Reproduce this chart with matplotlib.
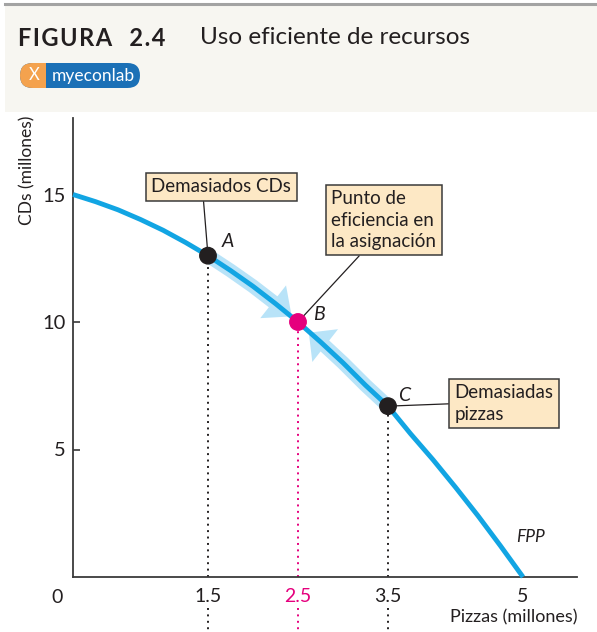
"""
production possibilities frontier with efficient allocation
recreates figure 2.4 (uso eficiente de recursos)
"""

import matplotlib
matplotlib.use("Agg")
import matplotlib.pyplot as plt
from matplotlib.patches import Rectangle, FancyBboxPatch
from matplotlib.transforms import IdentityTransform, blended_transform_factory
from matplotlib.lines import Line2D

# frontier (pizzas vs cds, millions)
fpp_x = [0, 0.25, 0.5, 0.75, 1.0, 1.25, 1.5, 1.75, 2.0, 2.25, 2.5,
         2.75, 3.0, 3.25, 3.5, 3.75, 4.0, 4.25, 4.5, 4.75, 5.0]
fpp_y = [15, 14.72, 14.4, 14.02, 13.6, 13.12, 12.6, 12.02, 11.4, 10.72, 10.0,
         9.22, 8.4, 7.52, 6.7, 5.62, 4.6, 3.52, 2.4, 1.22, 0]

# labelled points
point_names = ["A", "B", "C"]
point_x = [1.5, 2.5, 3.5]
point_y = [12.6, 10.0, 6.7]

# tick values
y_ticks = [5, 10, 15]
x_ticks = [1.5, 2.5, 3.5, 5]
x_tick_labels = ["1.5", "2.5", "3.5", "5"]

# arrow tips pointing at b
tip_ab = (2.43, 10.22)
tip_cb = (2.62, 9.58)

FONT = ["Lato", "DejaVu Sans"]
CURVE = "#12a5e3"
BAND = "#b8e3f8"
MAGENTA = "#e5007d"
DARK = "#231f20"
BOX = "#fde8c5"
AXIS = "#3a3a3a"

plt.rcParams["font.family"] = FONT

W, H = 597, 632
fig = plt.figure(figsize=(W / 100, H / 100), dpi=100)
px = IdentityTransform()

# header band and top rule
fig.patches.append(Rectangle((5, H - 112), W - 5, 107, transform=px,
                             facecolor="#f7f6f1", edgecolor="none", zorder=0))
fig.lines.append(Line2D([5, W], [H - 4, H - 4], transform=px,
                        color="#a3a3a3", lw=2.2))

# title (letter spaced label)
fig.text(18 / W, 1 - 38 / H, "F\u200aI\u200aG\u200aU\u200aR\u200aA   2\u200a.\u200a4",
         fontsize=17, fontweight="bold", color=DARK, va="center", ha="left")
fig.text(200 / W, 1 - 38 / H, "Uso eficiente de recursos", fontsize=17.5,
         color=DARK, va="center", ha="left")

# myeconlab badge
fig.patches.append(FancyBboxPatch((20, H - 88), 120, 25, transform=px,
                                  boxstyle="round,pad=0,rounding_size=12.5",
                                  facecolor="#1b70b6", edgecolor="none"))
fig.patches.append(FancyBboxPatch((20, H - 88), 25, 25, transform=px,
                                  boxstyle="round,pad=0,rounding_size=12.5",
                                  facecolor="#f4a24e", edgecolor="none"))
fig.patches.append(Rectangle((33, H - 88), 13, 25, transform=px,
                             facecolor="#f4a24e", edgecolor="none"))
fig.text(34 / W, 1 - 75.5 / H, "X", fontsize=12, color="white",
         ha="center", va="center")
fig.text(93 / W, 1 - 75.5 / H, "myeconlab", fontsize=12.5,
         color="white", ha="center", va="center")

# axes placed to match the original pixel frame
ax = fig.add_axes([73 / W, (H - 577) / H, 504 / W, 459 / H])
ax.set_xlim(0, 5.6)
ax.set_ylim(0, 18)
ax.patch.set_alpha(0)
for side in ["top", "right"]:
    ax.spines[side].set_visible(False)
for side in ["left", "bottom"]:
    ax.spines[side].set_color(AXIS)
    ax.spines[side].set_linewidth(1.3)

ax.set_yticks(y_ticks)
ax.set_yticklabels([str(v) for v in y_ticks])
ax.tick_params(axis="y", direction="in", length=5, width=1.2, color=AXIS,
               labelsize=14.5, labelcolor=DARK, pad=5)
ax.set_xticks(x_ticks)
ax.set_xticklabels(x_tick_labels)
ax.tick_params(axis="x", length=0, labelsize=14, labelcolor=DARK, pad=8)
ax.get_xticklabels()[1].set_color(MAGENTA)
ax.text(-0.02, -0.045, "0", transform=ax.transAxes, fontsize=14,
        color=DARK, ha="right", va="center")

ax.text(1.0, -0.087, "Pizzas (millones)", transform=ax.transAxes,
        fontsize=13, color=DARK, ha="right", va="center")
ax.text(-0.091, 0.887, "CDs (millones)", transform=ax.transAxes,
        fontsize=12.5, color=DARK, ha="center", va="center", rotation=90)

# light blue bands moving towards b
i_a, i_b, i_c = fpp_x.index(1.5), fpp_x.index(2.25), fpp_x.index(3.5)
i_d = fpp_x.index(2.75)
ax.plot(fpp_x[i_a:i_b + 1], fpp_y[i_a:i_b + 1], color=BAND, lw=10,
        solid_capstyle="butt", zorder=2)
ax.plot(fpp_x[i_d:i_c + 1], fpp_y[i_d:i_c + 1], color=BAND, lw=10,
        solid_capstyle="butt", zorder=2)
head = dict(arrowstyle="-|>,head_length=0.85,head_width=0.75",
            mutation_scale=20, color=BAND, lw=0, shrinkA=0, shrinkB=0)
ax.annotate("", xy=tip_ab, xytext=(fpp_x[i_b], fpp_y[i_b]),
            arrowprops=head, zorder=2)
ax.annotate("", xy=tip_cb, xytext=(fpp_x[i_d], fpp_y[i_d]),
            arrowprops=dict(head, arrowstyle="-|>,head_length=0.75,head_width=0.75"),
            zorder=2)

# frontier
ax.plot(fpp_x, fpp_y, color=CURVE, lw=3.5, solid_capstyle="butt",
        zorder=3, clip_on=False)
ax.text(5.08, 1.57, "FPP", fontsize=12.5, style="italic", color=DARK,
        ha="center", va="center")

# dotted drop lines, continued below the tick labels
below = blended_transform_factory(ax.transData, ax.transAxes)
colors = [DARK, MAGENTA, DARK]
for x, y, c in zip(point_x, point_y, colors):
    ax.plot([x, x], [0, y], color=c, lw=1.4, ls=(0, (1, 2.3)), zorder=1)
    ax.plot([x, x], [-0.068, -0.125], color=c, lw=1.4, ls=(0, (1, 2.3)),
            transform=below, clip_on=False)

# points and letters
ax.scatter(point_x, point_y, s=140, c=colors, zorder=5, clip_on=False)
label_offsets = [(0.22, 0.55), (0.23, 0.3), (0.18, 0.4)]
for name, x, y, (dx, dy) in zip(point_names, point_x, point_y, label_offsets):
    ax.text(x + dx, y + dy, name, fontsize=14, style="italic", color=DARK,
            ha="center", va="center")

# callout boxes
box = dict(boxstyle="square,pad=0.3", facecolor=BOX, edgecolor=AXIS, lw=1.1)
line = dict(arrowstyle="-", color=DARK, lw=0.9, shrinkA=0, shrinkB=0)
ax.annotate("Demasiados CDs", xy=(point_x[0], point_y[0]), xytext=(0.87, 15.3),
            fontsize=13.5, color=DARK, ha="left", va="center", bbox=box,
            arrowprops=dict(line, relpos=(0.37, 0)), zorder=4)
ax.annotate("Punto de\neficiencia en\nla asignación", xy=(point_x[1], point_y[1]),
            xytext=(2.87, 14.0), fontsize=13.5, color=DARK, ha="left",
            va="center", linespacing=1.3, bbox=box,
            arrowprops=dict(line, relpos=(0.32, 0)), zorder=4)
ax.annotate("Demasiadas\npizzas", xy=(point_x[2], point_y[2]), xytext=(4.24, 6.8),
            fontsize=13.5, color=DARK, ha="left", va="center",
            linespacing=1.3, bbox=box,
            arrowprops=dict(line, relpos=(0, 0.5)), zorder=4)

fig.savefig("out.png", dpi=100)
